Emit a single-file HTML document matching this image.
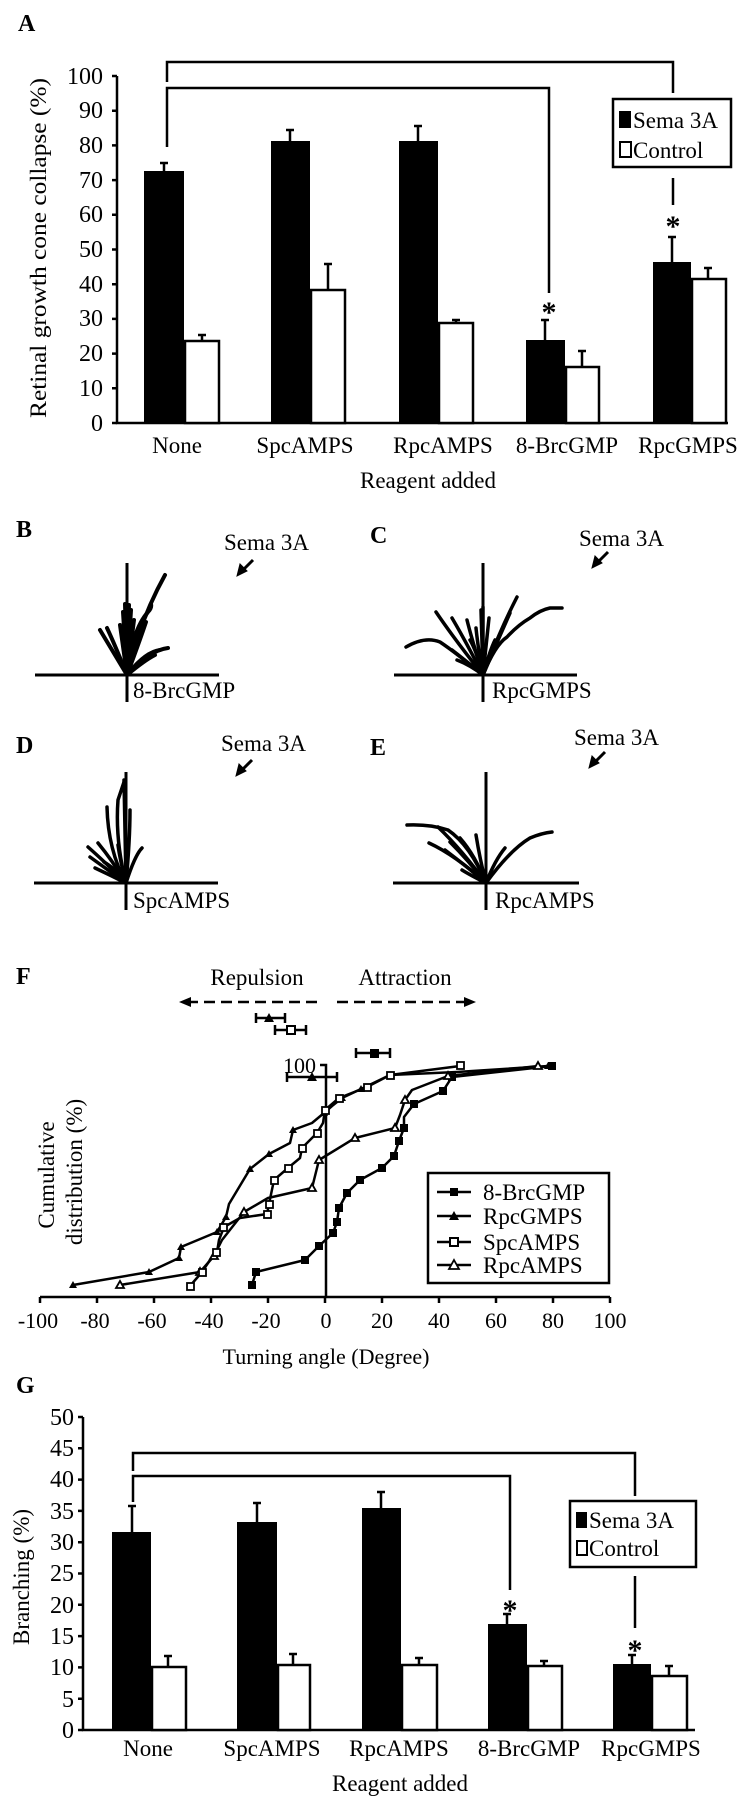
<!DOCTYPE html>
<html><head><meta charset="utf-8"><style>
html,body{margin:0;padding:0;background:#fff;}
svg{display:block;}
text{font-family:"Liberation Serif",serif;fill:#000;}
</style></head><body>
<svg width="744" height="1800" viewBox="0 0 744 1800" xmlns="http://www.w3.org/2000/svg">
<!-- ================= PANEL A ================= -->
<text x="18" y="31" font-size="24" font-weight="bold">A</text>
<g stroke="#000" stroke-width="2.5" fill="none">
<path d="M167 82 V62 H673 V93"/>
<path d="M167 147 V88 H549 V293"/>
<path d="M673 178 V205"/>
<path d="M117 76 V423 H728"/>
<path d="M112 76 H117 M112 110.7 H117 M112 145.4 H117 M112 180.1 H117 M112 214.8 H117 M112 249.5 H117 M112 284.2 H117 M112 318.9 H117 M112 353.6 H117 M112 388.3 H117 M112 423 H117"/>
</g>
<g font-size="24" text-anchor="end">
<text x="103" y="84">100</text><text x="103" y="118">90</text><text x="103" y="153">80</text><text x="103" y="188">70</text><text x="103" y="222">60</text><text x="103" y="257">50</text><text x="103" y="292">40</text><text x="103" y="326">30</text><text x="103" y="361">20</text><text x="103" y="396">10</text><text x="103" y="431">0</text>
</g>
<text transform="translate(46,248) rotate(-90)" font-size="23" text-anchor="middle" textLength="340" lengthAdjust="spacingAndGlyphs">Retinal growth cone collapse (%)</text>
<g fill="#000">
<rect x="144" y="171" width="40" height="252"/>
<rect x="271" y="141" width="39" height="282"/>
<rect x="399" y="141" width="39" height="282"/>
<rect x="526" y="340" width="39" height="83"/>
<rect x="653" y="262" width="38" height="161"/>
</g>
<g fill="#fff" stroke="#000" stroke-width="2.5">
<rect x="185" y="341" width="34" height="82"/>
<rect x="311" y="290" width="34" height="133"/>
<rect x="439" y="323" width="34" height="100"/>
<rect x="566" y="367" width="33" height="56"/>
<rect x="692" y="279" width="34" height="144"/>
</g>
<g stroke="#000" stroke-width="2.5">
<path d="M164 171 V163 M160 163 H168"/>
<path d="M202 341 V335 M198 335 H206"/>
<path d="M290 141 V130 M286 130 H294"/>
<path d="M328 290 V264 M324 264 H332"/>
<path d="M418 141 V126 M414 126 H422"/>
<path d="M456 323 V320 M452 320 H460"/>
<path d="M545 340 V320 M541 320 H549"/>
<path d="M582 367 V351 M578 351 H586"/>
<path d="M672 262 V237 M668 237 H676"/>
<path d="M708 279 V268 M704 268 H712"/>
</g>
<text x="549" y="322" font-size="30" font-weight="bold" text-anchor="middle">*</text>
<text x="673" y="236" font-size="30" font-weight="bold" text-anchor="middle">*</text>
<rect x="613" y="99" width="118" height="68" fill="#fff" stroke="#000" stroke-width="2.5"/>
<rect x="619" y="111" width="12" height="17" fill="#000"/>
<rect x="620" y="142" width="11" height="15" fill="#fff" stroke="#000" stroke-width="2"/>
<text x="633" y="128" font-size="23">Sema 3A</text>
<text x="633" y="158" font-size="23">Control</text>
<g font-size="23" text-anchor="middle">
<text x="177" y="453">None</text>
<text x="305" y="453">SpcAMPS</text>
<text x="443" y="453">RpcAMPS</text>
<text x="567" y="453">8-BrcGMP</text>
<text x="688" y="453">RpcGMPS</text>
<text x="428" y="488">Reagent added</text>
</g>

<!-- ================= PANELS B-E ================= -->
<text x="16" y="537" font-size="24" font-weight="bold">B</text>
<text x="370" y="543" font-size="24" font-weight="bold">C</text>
<text x="16" y="753" font-size="24" font-weight="bold">D</text>
<text x="370" y="755" font-size="24" font-weight="bold">E</text>
<g font-size="23">
<text x="224" y="550">Sema 3A</text>
<text x="579" y="546">Sema 3A</text>
<text x="221" y="751">Sema 3A</text>
<text x="574" y="745">Sema 3A</text>
<text x="133" y="698">8-BrcGMP</text>
<text x="492" y="698">RpcGMPS</text>
<text x="133" y="908">SpcAMPS</text>
<text x="495" y="908">RpcAMPS</text>
</g>
<g stroke="#000" stroke-width="3" fill="#000">
<path d="M253 560 L243 570"/><polygon points="237,576 240,564 247,571" stroke-width="1"/>
<path d="M608 552 L598 562"/><polygon points="592,568 595,556 602,563" stroke-width="1"/>
<path d="M252 760 L242 770"/><polygon points="236,776 239,764 246,771" stroke-width="1"/>
<path d="M605 752 L595 762"/><polygon points="589,768 592,756 599,763" stroke-width="1"/>
</g>
<g stroke="#000" stroke-width="3" fill="none">
<path d="M127 563 V702 M35 675 H219"/>
<path d="M483 563 V702 M394 675 H577"/>
<path d="M126 772 V910 M34 883 H218"/>
<path d="M486 772 V910 M393 883 H579"/>
</g>
<g stroke="#000" stroke-width="4" fill="none" stroke-linecap="round">
<path d="M127 675 L125 604 M127 675 L129 605 M127 675 L131 610 M127 675 L123 612"/>
<path d="M127 675 Q140 620 165 575"/>
<path d="M127 675 Q132 630 148 612 Q152 608 151 604"/>
<path d="M127 675 Q112 650 100 630"/>
<path d="M127 675 Q115 645 107 628"/>
<path d="M127 675 Q150 650 168 648"/>
<path d="M127 675 Q145 652 160 650"/>
<path d="M127 675 Q135 645 140 637"/>
<path d="M127 675 Q140 640 146 622"/>
<path d="M127 675 L120 625 M127 675 L134 620"/>
<path d="M127 675 Q145 660 155 655"/>
</g>
<g stroke="#000" stroke-width="3.5" fill="none" stroke-linecap="round">
<path d="M483 675 Q455 652 440 642 Q425 636 406 647"/>
<path d="M483 675 Q455 640 436 612"/>
<path d="M483 675 Q465 640 452 618"/>
<path d="M483 675 Q472 640 467 620"/>
<path d="M483 675 L483 607 M483 675 L481 610"/>
<path d="M483 675 L489 618"/>
<path d="M483 675 Q500 630 517 597"/>
<path d="M483 675 Q498 640 510 613"/>
<path d="M483 675 Q495 645 507 637 Q518 625 530 618 Q540 610 550 608 L562 608"/>
<path d="M483 675 Q470 665 457 660"/>
<path d="M483 675 Q465 660 452 650"/>
<path d="M483 675 Q476 650 470 640"/>
<path d="M483 675 Q490 650 495 640"/>
<path d="M483 675 Q478 648 476 628"/>
</g>
<g stroke="#000" stroke-width="3.5" fill="none" stroke-linecap="round">
<path d="M126 883 L125 790 M126 883 L124 780"/>
<path d="M126 883 Q115 840 118 800 L124 782"/>
<path d="M126 883 Q108 850 107 807"/>
<path d="M126 883 Q105 862 88 847"/>
<path d="M126 883 Q108 870 90 857"/>
<path d="M126 883 Q112 860 98 843"/>
<path d="M126 883 Q135 855 142 848"/>
<path d="M126 883 Q110 875 95 868"/>
<path d="M126 883 Q120 860 118 845"/>
<path d="M126 883 Q130 840 130 810"/>
<path d="M126 883 Q115 868 104 862"/>
</g>
<g stroke="#000" stroke-width="3.5" fill="none" stroke-linecap="round">
<path d="M486 883 Q470 845 448 830 Q430 824 407 825"/>
<path d="M486 883 Q462 850 438 827"/>
<path d="M486 883 Q455 855 429 843"/>
<path d="M486 883 Q470 875 462 870"/>
<path d="M486 883 Q475 855 460 838"/>
<path d="M486 883 Q468 860 450 842"/>
<path d="M486 883 Q510 850 530 838 Q542 833 552 832"/>
<path d="M486 883 Q495 860 505 848"/>
<path d="M486 883 Q480 860 476 835"/>
<path d="M486 883 Q465 865 445 850"/>
</g>

<!-- ================= PANEL F ================= -->
<text x="16" y="984" font-size="24" font-weight="bold">F</text>
<text x="257" y="985" font-size="23" text-anchor="middle">Repulsion</text>
<text x="405" y="985" font-size="23" text-anchor="middle">Attraction</text>
<g stroke="#000" stroke-width="2.5" stroke-dasharray="11,6" fill="none">
<path d="M187 1002 H317"/><path d="M337 1002 H468"/>
</g>
<polygon points="179,1002 191,997 191,1007" fill="#000"/>
<polygon points="476,1002 464,997 464,1007" fill="#000"/>
<g stroke="#000" stroke-width="2.5" fill="none">
<path d="M256 1018 H285 M256 1013 V1023 M285 1013 V1023"/>
<path d="M275 1030 H306 M275 1025 V1035 M306 1025 V1035"/>
<path d="M356 1053 H390 M356 1048 V1058 M390 1048 V1058"/>
<path d="M287 1077 H337 M287 1072 V1082 M337 1072 V1082"/>
</g>
<polygon points="269,1013 274,1022 264,1022" fill="#000"/>
<rect x="287" y="1026" width="8" height="8" fill="#fff" stroke="#000" stroke-width="2"/>
<rect x="370" y="1049" width="9" height="9" fill="#000"/>
<polygon points="312,1072 317,1081 307,1081" fill="#000"/>
<text x="283" y="1073" font-size="22">100</text>
<g stroke="#000" stroke-width="2.5" fill="none">
<path d="M320 1065 H326 V1297"/>
<path d="M40 1297 H610"/>
<path d="M40 1297 V1303 M97 1297 V1303 M154 1297 V1303 M211 1297 V1303 M268 1297 V1303 M325 1297 V1303 M382 1297 V1303 M439 1297 V1303 M496 1297 V1303 M553 1297 V1303 M610 1297 V1303"/>
</g>
<g font-size="22" text-anchor="middle">
<text x="38" y="1328">-100</text><text x="95" y="1328">-80</text><text x="152" y="1328">-60</text><text x="209" y="1328">-40</text><text x="266" y="1328">-20</text><text x="326" y="1328">0</text><text x="382" y="1328">20</text><text x="439" y="1328">40</text><text x="496" y="1328">60</text><text x="553" y="1328">80</text><text x="610" y="1328">100</text>
<text x="326" y="1364">Turning angle (Degree)</text>
</g>
<text transform="translate(54,1175) rotate(-90)" font-size="23" text-anchor="middle">Cumulative</text>
<text transform="translate(82,1172) rotate(-90)" font-size="23" text-anchor="middle">distribution (%)</text>
<g stroke="#000" stroke-width="2.5" fill="none" stroke-linejoin="round">
<polyline points="73,1285 149,1272 179,1258 181,1247 217,1232 226,1217 229,1204 250,1169 269,1154 290,1143 293,1130 312,1123 324,1113 332,1106 342,1098 361,1089 390,1075 457,1072 548,1066"/>
<polyline points="120,1285 200,1272 214,1256 222,1240 244,1212 268,1198 312,1188 319,1160 355,1138 395,1128 400,1115 405,1100 412,1090 448,1076 538,1066"/>
<polyline points="190,1286 202,1272 210,1260 217,1252 219,1240 224,1227 240,1218 267,1214 269,1204 274,1180 288,1168 300,1158 302,1148 317,1133 323,1123 325,1110 339,1098 367,1087 390,1075 460,1066"/>
<polyline points="252,1285 256,1272 305,1260 319,1246 333,1233 337,1222 339,1208 347,1193 360,1180 382,1168 394,1156 399,1141 404,1128 404,1117 414,1104 443,1091 452,1077 552,1066"/>
</g>
<g fill="#000">
<polygon points="73,1281 77,1288 69,1288"/><polygon points="149,1268 153,1275 145,1275"/><polygon points="179,1254 183,1261 175,1261"/><polygon points="181,1243 185,1250 177,1250"/><polygon points="217,1228 221,1235 213,1235"/><polygon points="226,1213 230,1220 222,1220"/><polygon points="250,1165 254,1172 246,1172"/><polygon points="269,1150 273,1157 265,1157"/><polygon points="293,1126 297,1133 289,1133"/><polygon points="324,1109 328,1116 320,1116"/><polygon points="342,1094 346,1101 338,1101"/><polygon points="361,1085 365,1092 357,1092"/><polygon points="548,1062 552,1069 544,1069"/>
<rect x="248" y="1281" width="8" height="8"/><rect x="252" y="1268" width="8" height="8"/><rect x="301" y="1256" width="8" height="8"/><rect x="315" y="1242" width="8" height="8"/><rect x="329" y="1229" width="8" height="8"/><rect x="333" y="1218" width="8" height="8"/><rect x="335" y="1204" width="8" height="8"/><rect x="343" y="1189" width="8" height="8"/><rect x="356" y="1176" width="8" height="8"/><rect x="378" y="1164" width="8" height="8"/><rect x="390" y="1152" width="8" height="8"/><rect x="395" y="1137" width="8" height="8"/><rect x="400" y="1124" width="8" height="8"/><rect x="410" y="1100" width="8" height="8"/><rect x="439" y="1087" width="8" height="8"/><rect x="448" y="1073" width="8" height="8"/><rect x="548" y="1062" width="8" height="8"/>
</g>
<g fill="#fff" stroke="#000" stroke-width="1.8">
<polygon points="120,1281 124,1288 116,1288"/><polygon points="200,1268 204,1275 196,1275"/><polygon points="214,1252 218,1259 210,1259"/><polygon points="244,1208 248,1215 240,1215"/><polygon points="312,1184 316,1191 308,1191"/><polygon points="319,1156 323,1163 315,1163"/><polygon points="355,1134 359,1141 351,1141"/><polygon points="395,1124 399,1131 391,1131"/><polygon points="405,1096 409,1103 401,1103"/><polygon points="448,1072 452,1079 444,1079"/><polygon points="538,1062 542,1069 534,1069"/>
<rect x="187" y="1283" width="7" height="7"/><rect x="199" y="1269" width="7" height="7"/><rect x="213" y="1249" width="7" height="7"/><rect x="220" y="1224" width="7" height="7"/><rect x="264" y="1211" width="7" height="7"/><rect x="266" y="1201" width="7" height="7"/><rect x="271" y="1177" width="7" height="7"/><rect x="285" y="1165" width="7" height="7"/><rect x="299" y="1145" width="7" height="7"/><rect x="314" y="1130" width="7" height="7"/><rect x="322" y="1107" width="7" height="7"/><rect x="336" y="1095" width="7" height="7"/><rect x="364" y="1084" width="7" height="7"/><rect x="387" y="1072" width="7" height="7"/><rect x="457" y="1062" width="7" height="7"/>
</g>
<rect x="428" y="1173" width="181" height="110" fill="#fff" stroke="#000" stroke-width="2.5"/>
<g stroke="#000" stroke-width="2.5"><path d="M437 1192 H471 M437 1216 H471 M437 1242 H471 M437 1265 H471"/></g>
<rect x="450" y="1188" width="8" height="8" fill="#000"/>
<polygon points="454,1211 459,1220 449,1220" fill="#000"/>
<rect x="450" y="1238" width="8" height="8" fill="#fff" stroke="#000" stroke-width="2"/>
<polygon points="454,1260 459,1269 449,1269" fill="#fff" stroke="#000" stroke-width="1.8"/>
<g font-size="23"><text x="483" y="1200">8-BrcGMP</text><text x="483" y="1224">RpcGMPS</text><text x="483" y="1250">SpcAMPS</text><text x="483" y="1273">RpcAMPS</text></g>

<!-- ================= PANEL G ================= -->
<text x="16" y="1393" font-size="24" font-weight="bold">G</text>
<g stroke="#000" stroke-width="2.5" fill="none">
<path d="M133 1471 V1453 H635 V1496"/>
<path d="M133 1502 V1476 H510 V1590"/>
<path d="M635 1576 V1628"/>
<path d="M83 1417 V1730 H695"/>
<path d="M78 1417 H83 M78 1448.3 H83 M78 1479.6 H83 M78 1510.9 H83 M78 1542.2 H83 M78 1573.5 H83 M78 1604.8 H83 M78 1636.1 H83 M78 1667.4 H83 M78 1698.7 H83 M78 1730 H83"/>
</g>
<g font-size="24" text-anchor="end">
<text x="74" y="1425">50</text><text x="74" y="1456">45</text><text x="74" y="1487">40</text><text x="74" y="1519">35</text><text x="74" y="1550">30</text><text x="74" y="1581">25</text><text x="74" y="1613">20</text><text x="74" y="1644">15</text><text x="74" y="1675">10</text><text x="74" y="1707">5</text><text x="74" y="1738">0</text>
</g>
<text transform="translate(29,1577) rotate(-90)" font-size="23" text-anchor="middle">Branching (%)</text>
<g fill="#000">
<rect x="112" y="1532" width="39" height="198"/>
<rect x="237" y="1522" width="40" height="208"/>
<rect x="362" y="1508" width="39" height="222"/>
<rect x="488" y="1624" width="39" height="106"/>
<rect x="613" y="1664" width="38" height="66"/>
</g>
<g fill="#fff" stroke="#000" stroke-width="2.5">
<rect x="152" y="1667" width="34" height="63"/>
<rect x="278" y="1665" width="32" height="65"/>
<rect x="402" y="1665" width="35" height="65"/>
<rect x="528" y="1666" width="34" height="64"/>
<rect x="652" y="1676" width="35" height="54"/>
</g>
<g stroke="#000" stroke-width="2.5">
<path d="M132 1532 V1506 M128 1506 H136"/>
<path d="M168 1667 V1656 M164 1656 H172"/>
<path d="M257 1522 V1503 M253 1503 H261"/>
<path d="M293 1665 V1654 M289 1654 H297"/>
<path d="M381 1508 V1492 M377 1492 H385"/>
<path d="M419 1665 V1658 M415 1658 H423"/>
<path d="M507 1624 V1614 M503 1614 H511"/>
<path d="M544 1666 V1661 M540 1661 H548"/>
<path d="M632 1664 V1655 M628 1655 H636"/>
<path d="M669 1676 V1666 M665 1666 H673"/>
</g>
<text x="510" y="1620" font-size="30" font-weight="bold" text-anchor="middle">*</text>
<text x="635" y="1660" font-size="30" font-weight="bold" text-anchor="middle">*</text>
<rect x="570" y="1501" width="126" height="66" fill="#fff" stroke="#000" stroke-width="2.5"/>
<rect x="576" y="1512" width="11" height="16" fill="#000"/>
<rect x="577" y="1541" width="10" height="14" fill="#fff" stroke="#000" stroke-width="2"/>
<text x="589" y="1528" font-size="23">Sema 3A</text>
<text x="589" y="1556" font-size="23">Control</text>
<g font-size="23" text-anchor="middle">
<text x="148" y="1756">None</text>
<text x="272" y="1756">SpcAMPS</text>
<text x="399" y="1756">RpcAMPS</text>
<text x="529" y="1756">8-BrcGMP</text>
<text x="651" y="1756">RpcGMPS</text>
<text x="400" y="1791">Reagent added</text>
</g>
</svg>
</body></html>
